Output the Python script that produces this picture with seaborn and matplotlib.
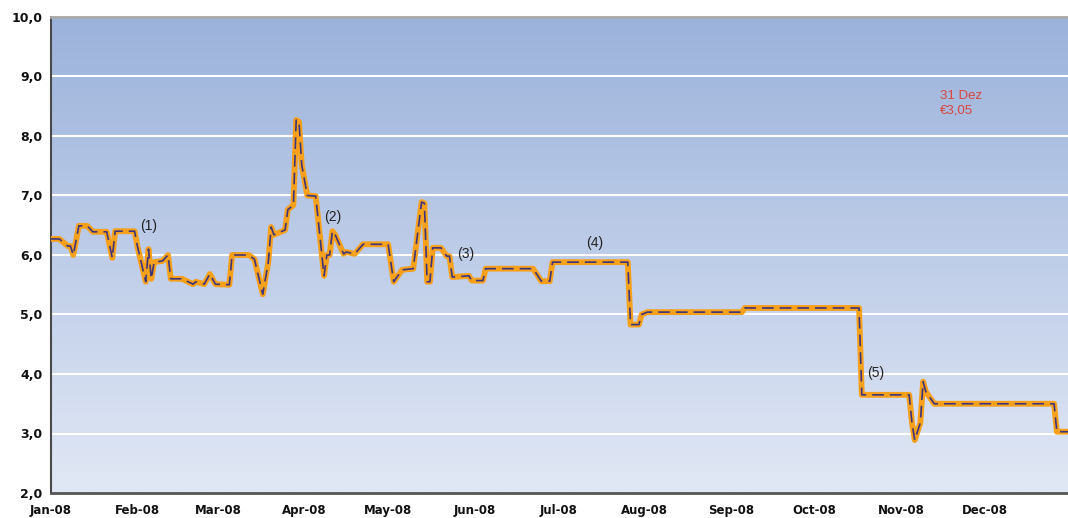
import numpy as np
import pandas as pd
import matplotlib
matplotlib.use("Agg")
import matplotlib.pyplot as plt
import matplotlib.dates as mdates
from matplotlib.ticker import FuncFormatter
import seaborn as sns

# Share price 2008 (EUR)
dates = [
    "2008-01-01", "2008-01-04", "2008-01-07", "2008-01-08", "2008-01-09", "2008-01-11",
    "2008-01-14", "2008-01-16", "2008-01-21", "2008-01-23", "2008-01-24", "2008-01-31",
    "2008-02-01", "2008-02-04", "2008-02-05", "2008-02-06", "2008-02-07", "2008-02-10",
    "2008-02-12", "2008-02-13", "2008-02-17", "2008-02-21", "2008-02-22", "2008-02-25",
    "2008-02-27", "2008-02-29", "2008-03-05", "2008-03-06", "2008-03-12", "2008-03-14",
    "2008-03-17", "2008-03-19", "2008-03-20", "2008-03-21", "2008-03-25", "2008-03-26",
    "2008-03-28", "2008-03-29", "2008-03-30", "2008-03-31", "2008-04-02", "2008-04-05",
    "2008-04-08", "2008-04-09", "2008-04-10", "2008-04-11", "2008-04-12", "2008-04-15",
    "2008-04-16", "2008-04-19", "2008-04-22", "2008-05-01", "2008-05-03", "2008-05-06",
    "2008-05-10", "2008-05-13", "2008-05-14", "2008-05-15", "2008-05-16", "2008-05-17",
    "2008-05-20", "2008-05-22", "2008-05-23", "2008-05-24", "2008-05-30", "2008-05-31",
    "2008-06-04", "2008-06-05", "2008-06-22", "2008-06-25", "2008-06-28", "2008-06-29",
    "2008-07-26", "2008-07-27", "2008-07-30", "2008-07-31", "2008-08-02", "2008-09-05",
    "2008-09-06", "2008-10-17", "2008-10-18", "2008-11-04", "2008-11-05", "2008-11-06",
    "2008-11-08", "2008-11-09", "2008-11-10", "2008-11-13", "2008-12-26", "2008-12-27",
    "2008-12-31",
]
prices = [
    6.27, 6.27, 6.15, 6.15, 6.00, 6.49,
    6.49, 6.39, 6.39, 5.95, 6.40, 6.40,
    6.15, 5.55, 6.10, 5.60, 5.88, 5.90,
    6.00, 5.60, 5.60, 5.51, 5.55, 5.51,
    5.68, 5.51, 5.50, 6.00, 6.00, 5.93,
    5.34, 5.88, 6.47, 6.34, 6.42, 6.76,
    6.84, 8.27, 8.24, 7.51, 7.00, 6.99,
    5.65, 6.00, 6.00, 6.40, 6.34, 6.02,
    6.05, 6.02, 6.18, 6.18, 5.55, 5.75,
    5.77, 6.89, 6.87, 5.55, 5.55, 6.12,
    6.12, 5.98, 5.98, 5.63, 5.65, 5.57,
    5.57, 5.77, 5.77, 5.56, 5.56, 5.88,
    5.88, 4.83, 4.83, 5.00, 5.04, 5.04,
    5.11, 5.11, 3.65, 3.65, 3.18, 2.89,
    3.18, 3.87, 3.70, 3.50, 3.50, 3.03,
    3.03,
]

# Event markers (1)-(5)
event_labels = ["(1)", "(2)", "(3)", "(4)", "(5)"]
event_dates = ["2008-02-05", "2008-04-11", "2008-05-29", "2008-07-14", "2008-10-23"]
event_values = [6.49, 6.64, 6.02, 6.20, 4.02]

last_label = "31 Dez\n€3,05"

df = pd.DataFrame({"Date": pd.to_datetime(dates), "Price": prices})

sns.set_style("white")
plt.rcParams["font.family"] = ["Liberation Sans", "DejaVu Sans"]

fig = plt.figure(figsize=(10.68, 5.18), dpi=100)
ax = fig.add_axes([51 / 1068, 25 / 518, 1017 / 1068, 476 / 518])

# Blue gradient background (dark at top, light at bottom)
top = np.array([155, 178, 219]) / 255
bottom = np.array([225, 232, 245]) / 255
t = np.linspace(0, 1, 256)[:, None]
grad = (top[None, :] * (1 - t) + bottom[None, :] * t)[:, None, :]
ax.imshow(grad, extent=[0, 1, 0, 1], transform=ax.transAxes,
          aspect="auto", zorder=0, interpolation="bilinear")

# Horizontal white gridlines
for v in range(3, 10):
    ax.axhline(v, color="white", lw=1.5, zorder=1)

# Price line: thick orange with a thin navy dashed core
sns.lineplot(data=df, x="Date", y="Price", ax=ax, color="#F7A01C",
             lw=4.2, zorder=3, solid_joinstyle="round")
sns.lineplot(data=df, x="Date", y="Price", ax=ax, color="#3E3479",
             lw=1.2, zorder=4, linestyle=(0, (7, 3.6)))

for lab, d, v in zip(event_labels, event_dates, event_values):
    ax.text(pd.Timestamp(d), v, lab, ha="center", va="center",
            fontsize=10, color="#222222", zorder=5)

ax.text(pd.Timestamp("2008-11-15"), 8.55, last_label, ha="left", va="center",
        fontsize=9.5, color="#D9453A", linespacing=1.25, zorder=5)

ax.set_xlim(pd.Timestamp("2008-01-01"), pd.Timestamp("2008-12-31"))
ax.set_ylim(2, 10)
ax.set_yticks(np.arange(2, 11, 1))
ax.yaxis.set_major_formatter(FuncFormatter(lambda y, _: f"{y:.1f}".replace(".", ",")))
ax.xaxis.set_major_locator(mdates.MonthLocator())
ax.xaxis.set_major_formatter(mdates.DateFormatter("%b-%y"))
ax.set_xlabel("")
ax.set_ylabel("")

ax.tick_params(axis="both", direction="out", length=3, width=1, color="#555555",
               labelsize=9, labelcolor="#111111", pad=3)
ax.tick_params(axis="x", labelsize=8.5, pad=5)
for lbl in ax.get_xticklabels() + ax.get_yticklabels():
    lbl.set_fontweight("bold")
    lbl.set_family("DejaVu Sans")

ax.spines["top"].set_color("#A8A8A8")
ax.spines["top"].set_linewidth(2)
ax.spines["right"].set_visible(False)
ax.spines["left"].set_color("#4A4A4A")
ax.spines["left"].set_linewidth(1.5)
ax.spines["bottom"].set_color("#555555")
ax.spines["bottom"].set_linewidth(2)

fig.savefig("out.png", dpi=100)
